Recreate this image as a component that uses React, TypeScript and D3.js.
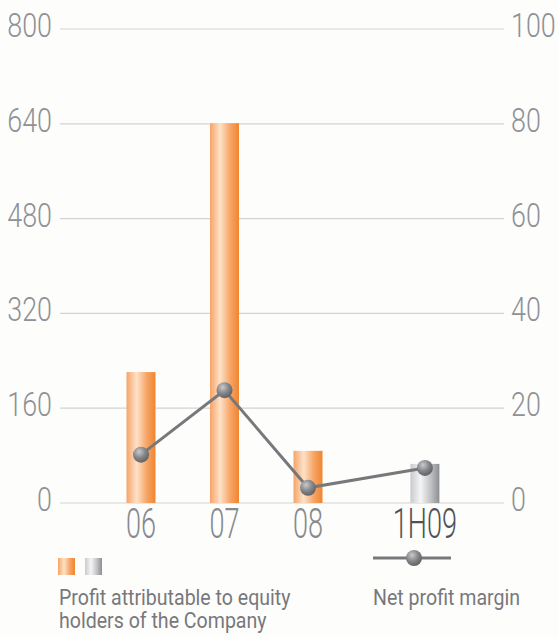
import React from "react";
import * as d3 from "d3";

const categories = ["06", "07", "08", "1H09"];
const profitValues = [221, 641, 88, 66];
const marginValues = [10.2, 23.8, 3.2, 7.4];
const leftTicks = [0, 160, 320, 480, 640, 800];
const rightTicks = [0, 20, 40, 60, 80, 100];
const legendProfit = ["Profit attributable to equity", "holders of the Company"];
const legendMargin = "Net profit margin";

const W = 558;
const H = 637;
const FONT = "Roboto, 'Liberation Sans', Arial, sans-serif";

export default function App() {
  const yL = d3.scaleLinear().domain([0, 800]).range([503, 29]);
  const yR = d3.scaleLinear().domain([0, 100]).range([503, 29]);
  // annual points evenly spaced; half-year column set further apart
  const slot = (i: number) => (i < 3 ? i : 3.4);
  const x = d3.scaleLinear().domain([0, 2]).range([141, 308]);
  const barW = 29;
  const line = d3
    .line<number>()
    .x((_, i) => x(slot(i)))
    .y((d) => yR(d));

  return (
    <svg
      width={W}
      height={H}
      style={{ position: "absolute", left: 0, top: 0, background: "#fdfdfb" }}
    >
      <defs>
        <linearGradient id="gOrange" x1="0" x2="1" y1="0" y2="0">
          <stop offset="0" stopColor="#f6a368" />
          <stop offset="0.35" stopColor="#fde2c8" />
          <stop offset="0.7" stopColor="#f7a466" />
          <stop offset="1" stopColor="#f0852f" />
        </linearGradient>
        <linearGradient id="gGray" x1="0" x2="1" y1="0" y2="0">
          <stop offset="0" stopColor="#c9cacd" />
          <stop offset="0.35" stopColor="#f5f5f6" />
          <stop offset="0.7" stopColor="#c1c2c5" />
          <stop offset="1" stopColor="#8c8e93" />
        </linearGradient>
        <radialGradient id="gBall" cx="0.38" cy="0.32" r="0.75">
          <stop offset="0" stopColor="#c9cacc" />
          <stop offset="0.5" stopColor="#86878b" />
          <stop offset="1" stopColor="#5a5b5f" />
        </radialGradient>
      </defs>

      {/* gridlines */}
      {leftTicks.map((t) => (
        <line
          key={"g" + t}
          x1={60}
          x2={504}
          y1={yL(t)}
          y2={yL(t)}
          stroke="#d3d3d3"
          strokeWidth={1.2}
        />
      ))}
      {leftTicks.map((t) => (
        <text
          key={"l" + t}
          transform={`translate(52,${yL(t) + 8}) scale(0.79,1)`}
          textAnchor="end"
          fontFamily={FONT}
          fontWeight={300}
          fontSize={34}
          fill="#8e9196"
        >
          {t}
        </text>
      ))}
      {rightTicks.map((t) => (
        <text
          key={"r" + t}
          transform={`translate(511,${yR(t) + 8}) scale(0.79,1)`}
          textAnchor="start"
          fontFamily={FONT}
          fontWeight={300}
          fontSize={34}
          fill="#8e9196"
        >
          {t}
        </text>
      ))}

      {/* bars */}
      {profitValues.map((v, i) => (
        <rect
          key={"b" + i}
          x={x(slot(i)) - barW / 2}
          y={yL(v)}
          width={barW}
          height={yL(0) - yL(v)}
          fill={i < 3 ? "url(#gOrange)" : "url(#gGray)"}
        />
      ))}

      {/* line */}
      <path d={line(marginValues) || ""} fill="none" stroke="#77787b" strokeWidth={3} />
      {marginValues.map((v, i) => (
        <circle key={"c" + i} cx={x(slot(i))} cy={yR(v)} r={8} fill="url(#gBall)" />
      ))}

      {/* x labels */}
      {categories.map((c, i) => (
        <text
          key={"x" + c}
          transform={`translate(${x(slot(i))},538) scale(0.63,1)`}
          textAnchor="middle"
          fontFamily={FONT}
          fontWeight={300}
          fontSize={43}
          fill={i < 3 ? "#86898e" : "#4f5155"}
        >
          {c}
        </text>
      ))}

      {/* legend */}
      <rect x={58} y={558} width={17} height={17} fill="url(#gOrange)" />
      <rect x={85} y={558} width={17} height={17} fill="url(#gGray)" />
      {legendProfit.map((s, i) => (
        <text
          key={"lp" + i}
          transform={`translate(59,${605 + i * 23}) scale(0.91,1)`}
          fontFamily={FONT}
          fontSize={21.5}
          fill="#77787b"
        >
          {s}
        </text>
      ))}
      <line x1={373} x2={451} y1={558} y2={558} stroke="#77787b" strokeWidth={3} />
      <circle cx={414} cy={558} r={8} fill="url(#gBall)" />
      <text
        transform="translate(373,605) scale(0.91,1)"
        fontFamily={FONT}
        fontSize={21.5}
        fill="#77787b"
      >
        {legendMargin}
      </text>
    </svg>
  );
}
